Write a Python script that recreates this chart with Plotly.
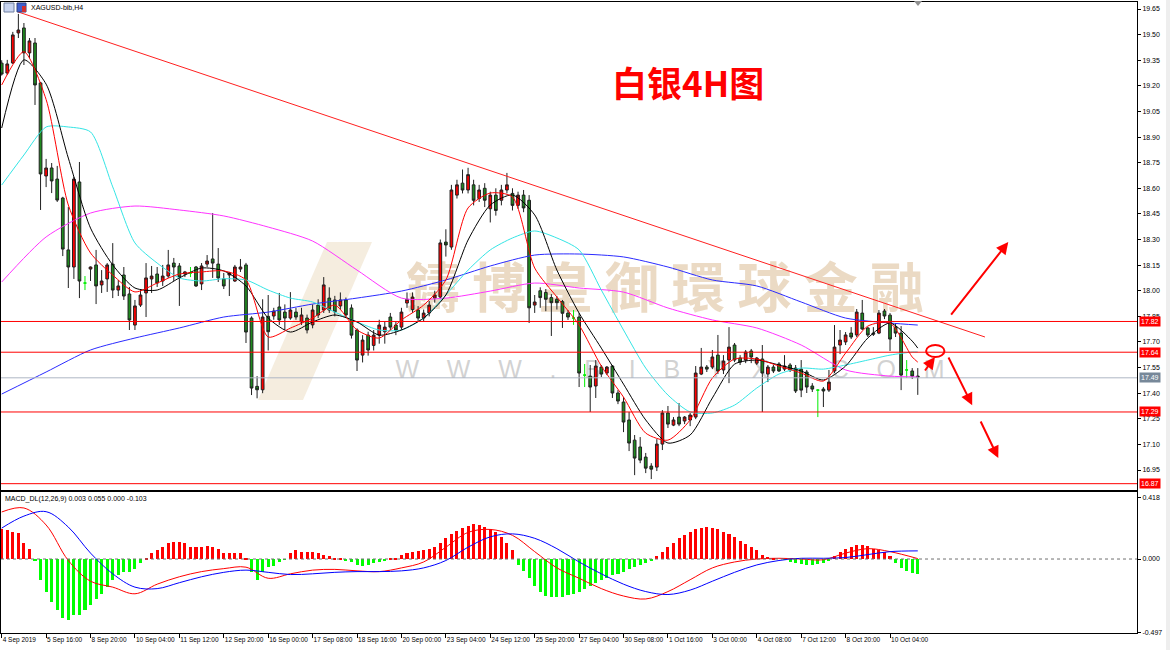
import plotly.graph_objects as go

# ---------------- data ----------------
tick_bars = [0, 8, 16, 24, 32, 40, 48, 56, 64, 72, 80, 88, 96, 104, 112, 120, 128, 136, 144, 152, 160]
tick_labels = ["4 Sep 2019", "5 Sep 16:00", "8 Sep 20:00", "10 Sep 04:00", "11 Sep 12:00", "12 Sep 20:00",
               "16 Sep 00:00", "17 Sep 08:00", "18 Sep 16:00", "20 Sep 00:00", "23 Sep 04:00", "24 Sep 12:00",
               "25 Sep 20:00", "27 Sep 04:00", "30 Sep 08:00", "1 Oct 16:00", "3 Oct 00:00", "4 Oct 08:00",
               "7 Oct 12:00", "8 Oct 20:00", "10 Oct 04:00"]

opens = [19.333, 19.275, 19.334, 19.510, 19.539, 19.393, 19.451, 19.217, 18.672, 18.719,
         18.654, 18.543, 18.239, 18.139, 18.637, 18.045, 18.127, 18.151, 18.034, 18.069,
         18.156, 18.004, 18.092, 17.981, 17.799, 17.916, 17.987, 18.069, 18.098, 18.057,
         18.086, 18.162, 18.145, 18.098, 18.104, 18.139, 18.040, 18.156, 18.186, 18.156,
         18.069, 18.092, 18.057, 18.127, 18.151, 17.840, 17.440, 17.420, 17.850, 17.852,
         17.905, 17.875, 17.840, 17.875, 17.817, 17.840, 17.800, 17.916, 17.887, 17.957,
         17.946, 17.911, 17.946, 17.899, 17.770, 17.623, 17.740, 17.680, 17.740, 17.760,
         17.846, 17.799, 17.787, 17.928, 17.890, 17.887, 17.840, 17.870, 17.957, 17.963,
         18.285, 18.256, 18.560, 18.630, 18.590, 18.620, 18.540, 18.600, 18.480, 18.560,
         18.530, 18.590, 18.570, 18.500, 18.560, 18.530, 17.916, 18.000, 17.990, 17.960,
         17.950, 17.936, 17.869, 17.840, 17.846, 17.506, 17.500, 17.442, 17.553, 17.518,
         17.559, 17.401, 17.348, 17.243, 17.125, 17.085, 17.026, 16.973, 16.967, 17.102,
         17.284, 17.213, 17.260, 17.237, 17.243, 17.260, 17.512, 17.553, 17.553, 17.623,
         17.536, 17.594, 17.682, 17.606, 17.594, 17.647, 17.576, 17.600, 17.512, 17.553,
         17.571, 17.541, 17.565, 17.547, 17.541, 17.524, 17.442, 17.418, 17.424, 17.418,
         17.530, 17.682, 17.700, 17.752, 17.741, 17.869, 17.782, 17.752, 17.752, 17.881,
         17.857, 17.787, 17.752, 17.536, 17.530, 17.500]
highs = [19.350, 19.352, 19.516, 19.621, 19.568, 19.480, 19.480, 19.223, 18.772, 18.748,
         18.731, 18.550, 18.490, 18.666, 18.754, 18.086, 18.142, 18.239, 18.121, 18.162,
         18.279, 18.063, 18.139, 18.022, 17.946, 18.010, 18.162, 18.145, 18.139, 18.151,
         18.239, 18.192, 18.162, 18.116, 18.139, 18.145, 18.162, 18.209, 18.455, 18.250,
         18.104, 18.110, 18.151, 18.186, 18.163, 17.850, 17.500, 17.950, 17.975, 17.900,
         17.987, 17.920, 17.992, 17.900, 17.900, 17.860, 17.920, 17.950, 18.080, 18.020,
         17.970, 17.990, 17.960, 17.920, 17.780, 17.740, 17.760, 17.770, 17.830, 17.820,
         17.870, 17.820, 17.900, 17.990, 17.990, 17.910, 17.890, 17.940, 18.000, 18.300,
         18.360, 18.620, 18.650, 18.710, 18.720, 18.650, 18.620, 18.630, 18.580, 18.600,
         18.620, 18.690, 18.600, 18.580, 18.590, 18.560, 17.975, 18.020, 18.010, 17.980,
         17.970, 17.946, 17.887, 17.887, 17.869, 17.571, 17.565, 17.594, 17.565, 17.559,
         17.565, 17.418, 17.377, 17.290, 17.155, 17.143, 17.050, 16.990, 17.131, 17.301,
         17.325, 17.260, 17.342, 17.266, 17.284, 17.559, 17.665, 17.565, 17.653, 17.741,
         17.623, 17.787, 17.694, 17.623, 17.653, 17.659, 17.612, 17.682, 17.565, 17.565,
         17.582, 17.623, 17.576, 17.565, 17.594, 17.536, 17.459, 17.424, 17.436, 17.536,
         17.799, 17.770, 17.758, 17.787, 17.893, 17.946, 17.787, 17.787, 17.887, 17.893,
         17.869, 17.811, 17.793, 17.594, 17.547, 17.547]
lows = [19.260, 19.264, 19.328, 19.480, 19.322, 19.363, 19.088, 18.473, 18.607, 18.572,
        18.520, 18.203, 18.016, 18.069, 17.957, 18.004, 18.057, 17.922, 17.987, 17.993,
        17.957, 17.969, 17.946, 17.770, 17.770, 17.905, 17.846, 17.987, 18.022, 18.028,
        18.075, 18.057, 17.911, 18.080, 18.080, 18.022, 18.004, 18.139, 18.075, 18.051,
        18.010, 17.969, 18.051, 18.110, 17.694, 17.389, 17.370, 17.400, 17.650, 17.830,
        17.800, 17.770, 17.830, 17.830, 17.800, 17.750, 17.780, 17.840, 17.870, 17.870,
        17.850, 17.890, 17.840, 17.720, 17.530, 17.580, 17.620, 17.650, 17.690, 17.690,
        17.770, 17.740, 17.770, 17.900, 17.870, 17.820, 17.820, 17.850, 17.930, 17.950,
        18.200, 18.240, 18.540, 18.570, 18.570, 18.500, 18.520, 18.490, 18.400, 18.440,
        18.500, 18.570, 18.470, 18.480, 18.460, 17.811, 17.870, 17.900, 17.880, 17.735,
        17.890, 17.782, 17.829, 17.800, 17.436, 17.436, 17.290, 17.372, 17.495, 17.506,
        17.372, 17.336, 17.172, 17.061, 16.920, 16.990, 16.932, 16.897, 16.944, 17.067,
        17.196, 17.207, 17.207, 17.219, 17.207, 17.248, 17.506, 17.524, 17.541, 17.512,
        17.512, 17.459, 17.582, 17.565, 17.576, 17.576, 17.565, 17.290, 17.465, 17.518,
        17.524, 17.530, 17.524, 17.401, 17.377, 17.401, 17.407, 17.260, 17.319, 17.407,
        17.518, 17.629, 17.682, 17.717, 17.729, 17.770, 17.729, 17.735, 17.746, 17.834,
        17.647, 17.729, 17.418, 17.489, 17.483, 17.390]
closes = [19.269, 19.328, 19.498, 19.527, 19.393, 19.463, 19.205, 18.684, 18.719, 18.643,
          18.531, 18.244, 18.139, 18.654, 18.057, 18.045, 18.139, 18.028, 18.057, 18.151,
          18.004, 18.028, 17.969, 17.829, 17.911, 17.975, 18.075, 18.086, 18.045, 18.086,
          18.151, 18.139, 18.080, 18.110, 18.104, 18.028, 18.145, 18.174, 18.162, 18.075,
          18.028, 18.104, 18.139, 18.139, 17.758, 17.430, 17.420, 17.846, 17.760, 17.881,
          17.829, 17.840, 17.887, 17.846, 17.858, 17.770, 17.887, 17.858, 18.034, 17.887,
          17.876, 17.946, 17.858, 17.740, 17.594, 17.711, 17.653, 17.740, 17.799, 17.787,
          17.787, 17.770, 17.875, 17.950, 17.963, 17.840, 17.869, 17.916, 17.975, 18.280,
          18.268, 18.590, 18.620, 18.590, 18.680, 18.530, 18.590, 18.530, 18.560, 18.470,
          18.590, 18.620, 18.500, 18.560, 18.485, 17.900, 17.934, 17.960, 17.950, 17.930,
          17.930, 17.868, 17.846, 17.840, 17.518, 17.506, 17.436, 17.559, 17.512, 17.553,
          17.401, 17.354, 17.231, 17.108, 17.020, 17.008, 16.961, 16.955, 17.102, 17.284,
          17.219, 17.243, 17.219, 17.260, 17.272, 17.518, 17.553, 17.541, 17.612, 17.530,
          17.588, 17.670, 17.594, 17.582, 17.641, 17.612, 17.606, 17.518, 17.553, 17.530,
          17.530, 17.559, 17.536, 17.413, 17.418, 17.436, 17.424, 17.418, 17.413, 17.465,
          17.670, 17.711, 17.741, 17.729, 17.875, 17.776, 17.741, 17.746, 17.869, 17.852,
          17.717, 17.752, 17.506, 17.536, 17.500, 17.495]

# moving averages (bar index, price)
ma_fast_x = [0, 4, 8, 12, 16, 20, 24, 28, 32, 36, 40, 44, 48, 52, 56, 60, 64, 68, 72, 76, 80,
             84, 88, 92, 96, 100, 104, 108, 112, 116, 120, 124, 128, 132, 136, 140, 144, 148,
             152, 156, 160, 164, 165]
ma_red = [19.205, 19.40, 19.12, 18.502, 18.221, 18.092, 17.993, 18.045, 18.098, 18.11, 18.116,
          18.063, 17.729, 17.781, 17.84, 17.916, 17.77, 17.723, 17.829, 17.916, 18.063, 18.485,
          18.572, 18.549, 18.133, 17.963, 17.799, 17.559, 17.377, 17.166, 17.125, 17.243, 17.489,
          17.60, 17.60, 17.559, 17.518, 17.471, 17.635, 17.793, 17.811, 17.612, 17.582]
ma_black = [18.953, 19.352, 19.21, 18.777, 18.367, 18.151, 18.016, 18.004, 18.075, 18.133, 18.116,
            18.028, 17.84, 17.758, 17.817, 17.858, 17.817, 17.74, 17.77, 17.84, 17.975, 18.297,
            18.502, 18.561, 18.444, 18.121, 17.869, 17.664, 17.453, 17.243, 17.108, 17.155, 17.372,
            17.57, 17.594, 17.565, 17.53, 17.477, 17.559, 17.723, 17.811, 17.705, 17.664]
ma_cyan = [18.619, 18.795, 18.959, 18.959, 18.93, 18.608, 18.28, 18.162, 18.075, 18.057, 18.07,
           18.063, 18.004, 17.957, 17.934, 17.875, 17.817, 17.77, 17.77, 17.84, 17.975, 18.121,
           18.239, 18.309, 18.35, 18.309, 18.239, 18.004, 17.77, 17.547, 17.389, 17.29, 17.284,
           17.33, 17.43, 17.512, 17.547, 17.541, 17.565, 17.594, 17.623, 17.641, 17.641]
ma_slow_x = [0, 8, 16, 24, 32, 40, 48, 56, 64, 72, 80, 88, 96, 104, 112, 120, 128, 136, 144,
             152, 160, 165]
ma_magenta = [18.051, 18.315, 18.455, 18.496, 18.473, 18.438, 18.373, 18.291, 18.121, 17.957,
              17.957, 17.998, 18.045, 18.016, 17.992, 17.899, 17.829, 17.782, 17.682, 17.536,
              17.50, 17.495]
ma_blue = [17.395, 17.524, 17.653, 17.723, 17.782, 17.846, 17.875, 17.922, 17.957, 17.998,
           18.063, 18.145, 18.209, 18.215, 18.198, 18.139, 18.063, 18.028, 17.934, 17.84,
           17.811, 17.799]

# MACD_DL(12,26,9)
macd_x = [0, 4, 8, 12, 16, 20, 24, 28, 32, 36, 40, 44, 48, 52, 56, 60, 64, 68, 72, 76, 80,
          84, 88, 92, 96, 100, 104, 108, 112, 116, 120, 124, 128, 132, 136, 140, 144, 148,
          152, 156, 160, 165]
macd_dif = [0.318, 0.345, 0.23, -0.01, -0.15, -0.19, -0.235, -0.17, -0.12, -0.085, -0.065,
            -0.055, -0.13, -0.10, -0.075, -0.07, -0.08, -0.085, -0.06, -0.02, 0.08, 0.18, 0.2,
            0.16, 0.05, -0.06, -0.13, -0.2, -0.25, -0.27, -0.22, -0.14, -0.06, -0.02, 0.0,
            0.005, 0.0, -0.005, 0.04, 0.07, 0.05, 0.003]
macd_dea = [0.209, 0.29, 0.32, 0.216, 0.04, -0.1, -0.19, -0.2, -0.16, -0.12, -0.09, -0.075,
            -0.09, -0.105, -0.1, -0.09, -0.085, -0.085, -0.08, -0.06, -0.01, 0.08, 0.15, 0.17,
            0.14, 0.07, -0.02, -0.1, -0.17, -0.22, -0.24, -0.21, -0.15, -0.09, -0.04, -0.01,
            0.005, 0.005, 0.01, 0.03, 0.05, 0.055]
macd_hist = [0.20, 0.196, 0.184, 0.173, 0.106, 0.065, -0.012, -0.142, -0.221, -0.288,
             -0.345, -0.40, -0.412, -0.38, -0.38, -0.345, -0.31, -0.27, -0.235, -0.19,
             -0.142, -0.108, -0.09, -0.09, -0.07, -0.03, 0.005, 0.043, 0.06, 0.084,
             0.11, 0.117, 0.113, 0.106, 0.084, 0.084, 0.084, 0.088, 0.084, 0.065,
             0.041, 0.041, 0.043, 0.043, 0.003, -0.086, -0.142, -0.086, -0.054, -0.045,
             -0.023, -0.005, 0.041, 0.059, 0.045, 0.05, 0.05, 0.04, 0.03, 0.02,
             0.01, 0.003, -0.01, -0.02, -0.04, -0.045, -0.04, -0.03, -0.02, -0.01,
             0.003, 0.01, 0.03, 0.04, 0.05, 0.055, 0.06, 0.07, 0.08, 0.11,
             0.14, 0.17, 0.19, 0.21, 0.225, 0.235, 0.23, 0.215, 0.2, 0.18,
             0.15, 0.11, 0.06, -0.04, -0.08, -0.13, -0.18, -0.22, -0.25, -0.26,
             -0.26, -0.255, -0.245, -0.235, -0.22, -0.2, -0.18, -0.16, -0.14, -0.13,
             -0.11, -0.1, -0.09, -0.07, -0.055, -0.04, -0.025, -0.01, 0.02, 0.05,
             0.08, 0.11, 0.14, 0.16, 0.18, 0.2, 0.21, 0.215, 0.21, 0.2,
             0.185, 0.17, 0.15, 0.12, 0.1, 0.08, 0.06, 0.03, 0.015, 0.005,
             0.0, -0.005, -0.02, -0.03, -0.035, -0.04, -0.04, -0.035, -0.025, -0.01,
             0.02, 0.045, 0.065, 0.08, 0.095, 0.095, 0.085, 0.07, 0.06, 0.045,
             0.02, -0.03, -0.06, -0.08, -0.095, -0.103]

# horizontal levels and price tags
level_prices = [17.82, 17.64, 17.29, 16.87]
bid_price = 17.49
price_ticks = [19.65, 19.50, 19.35, 19.20, 19.05, 18.90, 18.75, 18.60, 18.45, 18.30, 18.15,
               18.00, 17.85, 17.70, 17.55, 17.40, 17.25, 17.10, 16.95]
macd_ticks = [0.418, 0.0, -0.497]

# trend line and drawn arrows (bar index, price)
trend_x = [2.94, 177.1]
trend_y = [19.633, 17.729]
arrows = [  # (tail_x, tail_y, head_x, head_y)
    (170.8, 17.852, 181.3, 18.285),
    (170.4, 17.618, 174.8, 17.330),
    (176.2, 17.243, 179.5, 17.020),
    (166.1, 17.524, 168.1, 17.612),
]
ellipse = (166.5, 17.612, 169.8, 17.682)

# ---------------- figure ----------------
W, H = 1170, 650
ML, MR, MT, MB = 1, 33, 2, 17
PW = W - ML - MR
PH = H - MT - MB


def px_x(p):
    return (p - ML) / PW


def px_y(p):
    return (H - MB - p) / PH


N = len(closes)
idx = list(range(N))
up = [i for i in idx if closes[i] > opens[i]]
dn = [i for i in idx if closes[i] < opens[i]]
dj = [i for i in idx if closes[i] == opens[i]]

fig = go.Figure()


def candle(ids, fill, line):
    return go.Candlestick(
        x=ids, open=[opens[i] for i in ids], high=[highs[i] for i in ids],
        low=[lows[i] for i in ids], close=[closes[i] for i in ids],
        increasing=dict(fillcolor=fill, line=dict(color=line, width=1)),
        decreasing=dict(fillcolor=fill, line=dict(color=line, width=1)),
        whiskerwidth=0, showlegend=False, hoverinfo="skip", xaxis="x", yaxis="y")


# MA lines (under candles)
for xs, ys, col in [(ma_slow_x, ma_blue, "#2B2BFF"), (ma_slow_x, ma_magenta, "#FF33FF"),
                    (ma_fast_x, ma_cyan, "#33E5E5")]:
    fig.add_trace(go.Scatter(x=xs, y=ys, mode="lines", line=dict(color=col, width=1, shape="spline", smoothing=0.7),
                             showlegend=False, hoverinfo="skip", xaxis="x", yaxis="y"))

fig.add_trace(candle(up, "#FF0000", "#202020"))
fig.add_trace(candle(dn, "#1F8A1F", "#202020"))
fig.add_trace(candle(dj, "#00FF00", "#00EE00"))

for xs, ys, col in [(ma_fast_x, ma_black, "#000000"), (ma_fast_x, ma_red, "#FF0000")]:
    fig.add_trace(go.Scatter(x=xs, y=ys, mode="lines", line=dict(color=col, width=1, shape="spline", smoothing=0.7),
                             showlegend=False, hoverinfo="skip", xaxis="x", yaxis="y"))

# trend line
fig.add_trace(go.Scatter(x=trend_x, y=trend_y, mode="lines", line=dict(color="#FF2020", width=1),
                         showlegend=False, hoverinfo="skip", xaxis="x", yaxis="y"))

# MACD
fig.add_trace(go.Bar(x=idx, y=macd_hist, width=0.55,
                     marker=dict(color=["#FF0000" if v > 0 else "#00FF00" for v in macd_hist], line=dict(width=0)),
                     showlegend=False, hoverinfo="skip", xaxis="x2", yaxis="y2"))
fig.add_trace(go.Scatter(x=macd_x, y=macd_dif, mode="lines", line=dict(color="#FF0000", width=1, shape="spline"),
                         showlegend=False, hoverinfo="skip", xaxis="x2", yaxis="y2"))
fig.add_trace(go.Scatter(x=macd_x, y=macd_dea, mode="lines", line=dict(color="#0000FF", width=1, shape="spline"),
                         showlegend=False, hoverinfo="skip", xaxis="x2", yaxis="y2"))

xr = [(ML - 1.7) / 5.552, (W - MR - 1.7) / 5.552]
main_bottom = px_y(490)
macd_top = px_y(492)
tickfont = dict(family="Liberation Sans", size=7, color="#000000")

fig.update_layout(
    width=W, height=H, margin=dict(l=ML, r=MR, t=MT, b=MB, autoexpand=False),
    paper_bgcolor="white", plot_bgcolor="white", bargap=0,
    xaxis=dict(domain=[0, 1], range=xr, anchor="y", showticklabels=False, showgrid=False, zeroline=False,
               showline=True, mirror=True, linecolor="#000000", linewidth=1, ticks="",
               rangeslider=dict(visible=False)),
    yaxis=dict(domain=[main_bottom, 1], range=[16.833, 19.691], side="right", anchor="x",
               tickvals=price_ticks, ticktext=["%.2f" % v for v in price_ticks], tickfont=tickfont,
               ticks="outside", ticklen=3, tickcolor="#000000", showgrid=False, zeroline=False,
               showline=True, mirror=True, linecolor="#000000", linewidth=1),
    xaxis2=dict(domain=[0, 1], range=xr, anchor="y2", matches="x", tickvals=tick_bars, ticktext=tick_labels,
                tickfont=dict(family="Liberation Sans", size=6.5, color="#000000"), tickangle=0,
                ticks="outside", ticklen=4, tickcolor="#000000",
                ticklabelposition="outside right", showgrid=False, zeroline=False,
                showline=True, mirror=True, linecolor="#000000", linewidth=1,
                rangeslider=dict(visible=False)),
    yaxis2=dict(domain=[0, macd_top], range=[-0.5, 0.453], side="right", anchor="x2",
                tickvals=macd_ticks, ticktext=["%.3f" % v for v in macd_ticks], tickfont=tickfont,
                ticks="outside", ticklen=3, tickcolor="#000000", showgrid=False, zeroline=False,
                showline=True, mirror=True, linecolor="#000000", linewidth=1),
)

shapes = []
# faint logo band of the watermark (behind candles)
shapes.append(dict(type="path", xref="paper", yref="paper", layer="below", line=dict(width=0),
                   fillcolor="rgba(236,222,196,0.55)",
                   path="M %f,%f L %f,%f L %f,%f L %f,%f Z" % (px_x(258), px_y(400), px_x(303), px_y(400),
                                                              px_x(372), px_y(242), px_x(327), px_y(242))))
# watermark text (behind candles)
shapes.append(dict(type="rect", xref="paper", yref="paper", x0=px_x(390), x1=px_x(940), y0=px_y(325),
                   y1=px_y(262), line=dict(width=0), layer="below",
                   label=dict(text="<b>鑄 博 皇 御 環 球 金 融</b>", textposition="middle center",
                              font=dict(family="Noto Sans CJK TC", size=54, color="rgba(228,206,176,0.75)"))))
shapes.append(dict(type="rect", xref="paper", yref="paper", x0=px_x(400), x1=px_x(940), y0=px_y(382),
                   y1=px_y(352), line=dict(width=0), layer="below",
                   label=dict(text="W    W    W    .    B    I    B    Y    X    .    C    O    M",
                              textposition="middle center",
                              font=dict(family="Liberation Sans", size=25, color="rgba(190,190,190,0.7)"))))
# levels
for lv in level_prices:
    shapes.append(dict(type="line", xref="x domain", yref="y", x0=0, x1=1, y0=lv, y1=lv,
                       line=dict(color="#FF0000", width=1)))
shapes.append(dict(type="line", xref="x domain", yref="y", x0=0, x1=1, y0=bid_price, y1=bid_price,
                   line=dict(color="#AEB6C4", width=1)))
# macd zero line
shapes.append(dict(type="line", xref="x2 domain", yref="y2", x0=0, x1=1, y0=0, y1=0,
                   line=dict(color="#707070", width=1, dash="dot")))
# ellipse
shapes.append(dict(type="circle", xref="x", yref="y", x0=ellipse[0], y0=ellipse[1], x1=ellipse[2], y1=ellipse[3],
                   line=dict(color="#FF0000", width=2)))
# right strip
shapes.append(dict(type="rect", xref="paper", yref="paper", x0=px_x(1166), x1=px_x(1171), y0=px_y(651),
                   y1=px_y(-1), line=dict(width=0), fillcolor="#EEEEEE"))
# shift marker
shapes.append(dict(type="path", xref="paper", yref="paper",
                   path="M %f,%f L %f,%f L %f,%f Z" % (px_x(914), px_y(1), px_x(922), px_y(1), px_x(918), px_y(6)),
                   fillcolor="#909090", line=dict(width=0)))
# small toolbar icons at top-left
shapes.append(dict(type="rect", xref="paper", yref="paper", x0=px_x(4), x1=px_x(14), y0=px_y(12), y1=px_y(3),
                   line=dict(color="#7080A0", width=1), fillcolor="#C8D4F0"))
shapes.append(dict(type="rect", xref="paper", yref="paper", x0=px_x(17), x1=px_x(26), y0=px_y(12), y1=px_y(3),
                   line=dict(color="#304080", width=1), fillcolor="#4060D0"))
shapes.append(dict(type="rect", xref="paper", yref="paper", x0=px_x(22), x1=px_x(26), y0=px_y(12), y1=px_y(6),
                   line=dict(width=0), fillcolor="#D03030"))
fig.update_layout(shapes=shapes)

ann = []
ann.append(dict(text="<b>白银4H图</b>", xref="paper", yref="paper", x=px_x(688), y=px_y(81),
                xanchor="center", yanchor="middle",
                showarrow=False, font=dict(family="Noto Sans CJK SC", size=35, color="#FF0000")))
ann.append(dict(text="XAGUSD-bib,H4", xref="paper", yref="paper", x=px_x(29), y=px_y(8), xanchor="left",
                yanchor="middle", showarrow=False, font=dict(family="Liberation Sans", size=7, color="#000000")))
ann.append(dict(text="MACD_DL(12,26,9) 0.003 0.055 0.000 -0.103", xref="paper", yref="paper", x=px_x(3),
                y=px_y(499), xanchor="left", yanchor="middle", showarrow=False,
                font=dict(family="Liberation Sans", size=7, color="#000000")))
for lv, col in [(17.82, "#FF0000"), (17.64, "#FF0000"), (bid_price, "#778899"), (17.29, "#FF0000"),
                (16.87, "#FF0000")]:
    ann.append(dict(text="%.2f" % lv, xref="paper", yref="y", x=px_x(1139), y=lv, xanchor="left",
                    yanchor="middle", showarrow=False, bgcolor=col, borderpad=1,
                    font=dict(family="Liberation Sans", size=7, color="#FFFFFF")))
for tx, ty, hx, hy in arrows:
    ann.append(dict(x=hx, y=hy, ax=tx, ay=ty, xref="x", yref="y", axref="x", ayref="y", text="",
                    showarrow=True, arrowhead=2, arrowsize=1.2, arrowwidth=2, arrowcolor="#FF0000"))
fig.update_layout(annotations=ann)

fig.write_html("out.html", config={"displayModeBar": False},
               post_script="document.body.style.margin='0';document.body.style.padding='0';")
